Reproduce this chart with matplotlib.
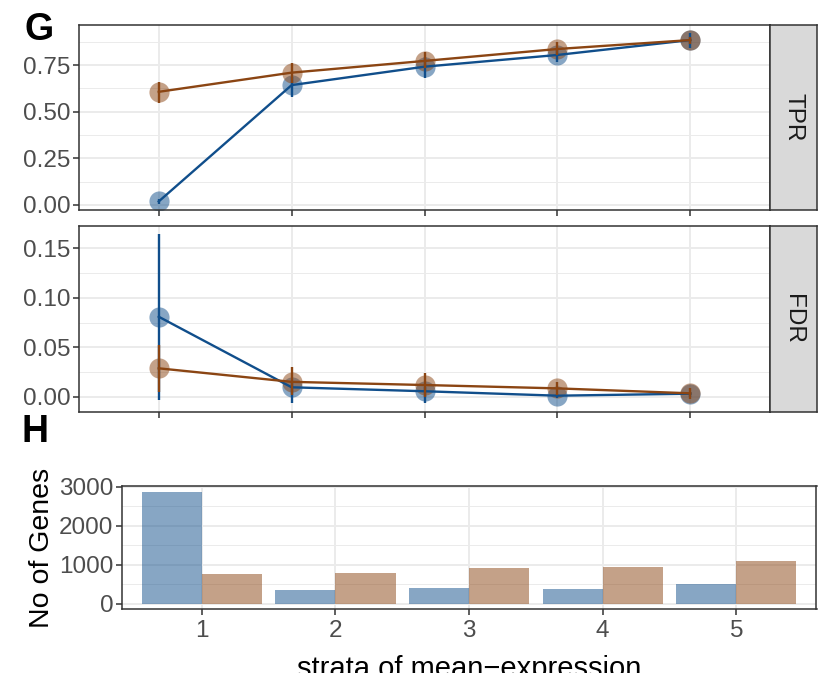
import matplotlib
matplotlib.use("Agg")
import matplotlib.pyplot as plt
from matplotlib.ticker import MultipleLocator, FixedLocator
import numpy as np

plt.rcParams['font.family'] = ['Liberation Sans', 'DejaVu Sans']

# ---- data ----
strata = [1, 2, 3, 4, 5]
methods = ["A", "B"]

tpr_a = [0.018, 0.643, 0.742, 0.805, 0.885]
tpr_a_lo = [0.005, 0.581, 0.683, 0.766, 0.845]
tpr_a_hi = [0.030, 0.688, 0.796, 0.841, 0.921]
tpr_b = [0.607, 0.710, 0.773, 0.837, 0.885]
tpr_b_lo = [0.548, 0.653, 0.733, 0.805, 0.865]
tpr_b_hi = [0.661, 0.760, 0.823, 0.872, 0.903]

fdr_a = [0.0809, 0.0095, 0.0055, 0.0010, 0.0030]
fdr_a_lo = [-0.0033, -0.0067, -0.0067, -0.0010, 0.0000]
fdr_a_hi = [0.1645, 0.0152, 0.0101, 0.0030, 0.0050]
fdr_b = [0.0287, 0.0150, 0.0118, 0.0084, 0.0034]
fdr_b_lo = [0.0050, 0.0017, 0.0000, 0.0017, -0.0027]
fdr_b_hi = [0.0520, 0.0303, 0.0236, 0.0152, 0.0084]

genes_a = [2880, 355, 406, 380, 507]
genes_b = [761, 786, 913, 938, 1090]

col_a = "#104E8B"   # dodgerblue4
col_b = "#8B4513"   # chocolate4

GRID = "#ebebeb"
BORDER = "#333333"
TICKC = "#4d4d4d"
FS = 17.5

W, H = 834, 673
fig = plt.figure(figsize=(W / 100, H / 100), dpi=100)


def box(x0, y0, x1, y1):
    return [x0 / W, 1 - y1 / H, (x1 - x0) / W, (y1 - y0) / H]


def style(ax, ymajor, yminor):
    ax.set_facecolor("white")
    ax.yaxis.set_major_locator(MultipleLocator(ymajor))
    ax.yaxis.set_minor_locator(MultipleLocator(yminor))
    ax.xaxis.set_major_locator(FixedLocator(strata))
    ax.grid(True, which="major", color=GRID, linewidth=1.4, zorder=0)
    ax.grid(True, which="minor", axis="y", color=GRID, linewidth=0.7, zorder=0)
    ax.set_axisbelow(True)
    for s in ax.spines.values():
        s.set_color(BORDER)
        s.set_linewidth(1.1)
    ax.tick_params(which="major", length=4, width=1.1, color=BORDER,
                   labelsize=FS, labelcolor=TICKC, pad=2)
    ax.tick_params(which="minor", length=0)
    ax.set_xlim(0.4, 5.6)


def strip(rect, label):
    sax = fig.add_axes(rect)
    sax.set_facecolor("#d9d9d9")
    sax.set_xticks([])
    sax.set_yticks([])
    for s in sax.spines.values():
        s.set_color(BORDER)
        s.set_linewidth(1.1)
    sax.text(0.5, 0.5, label, rotation=-90, ha="center", va="center",
             fontsize=FS, color="#1a1a1a", transform=sax.transAxes)


def draw_series(ax, x, y, lo, hi, col):
    ax.plot(x, y, "o", color=col, alpha=0.5, markersize=14.5,
            markeredgewidth=0, zorder=2)
    ax.vlines(x, lo, hi, color=col, linewidth=1.7, zorder=3)
    ax.plot(x, y, "-", color=col, linewidth=1.7, zorder=3)


# TPR panel
ax1 = fig.add_axes(box(79, 25, 770, 210))
style(ax1, 0.25, 0.125)
draw_series(ax1, strata, tpr_a, tpr_a_lo, tpr_a_hi, col_a)
draw_series(ax1, strata, tpr_b, tpr_b_lo, tpr_b_hi, col_b)
ax1.set_ylim(-0.028, 0.966)
ax1.yaxis.set_major_formatter(plt.FuncFormatter(lambda v, p: f"{v:.2f}"))
ax1.tick_params(axis="x", labelbottom=False)
strip(box(770, 25, 816.5, 210), "TPR")

# FDR panel
ax2 = fig.add_axes(box(79, 226, 770, 411.7))
style(ax2, 0.05, 0.025)
draw_series(ax2, strata, fdr_a, fdr_a_lo, fdr_a_hi, col_a)
draw_series(ax2, strata, fdr_b, fdr_b_lo, fdr_b_hi, col_b)
ax2.set_ylim(-0.0152, 0.1727)
ax2.yaxis.set_major_formatter(plt.FuncFormatter(lambda v, p: f"{v:.2f}"))
ax2.tick_params(axis="x", labelbottom=False)
strip(box(770, 226, 816.5, 411.7), "FDR")

# gene counts per stratum
ax3 = fig.add_axes(box(121.7, 486, 816.5, 609.3))
style(ax3, 1000, 500)
x = np.array(strata, dtype=float)
ax3.bar(x - 0.225, genes_a, width=0.45, color=col_a, alpha=0.5, linewidth=0, zorder=2)
ax3.bar(x + 0.225, genes_b, width=0.45, color=col_b, alpha=0.5, linewidth=0, zorder=2)
ymax = max(max(genes_a), max(genes_b))
ax3.set_ylim(-0.05 * ymax, 1.05 * ymax)
ax3.set_xticklabels([str(s) for s in strata])
ax3.set_ylabel("No of Genes", fontsize=20.5, color="black", labelpad=3)
ax3.tick_params(axis="x", pad=4)

fig.text(469 / W, 1 - 677 / H, "strata of mean\u2212expression", fontsize=21,
         ha="center", va="baseline", color="black")

fig.text(24 / W, 1 - 40 / H, "G", fontsize=27, fontweight="bold", va="baseline")
fig.text(22 / W, 1 - 442 / H, "H", fontsize=27, fontweight="bold", va="baseline")

fig.savefig("out.png", dpi=100)
